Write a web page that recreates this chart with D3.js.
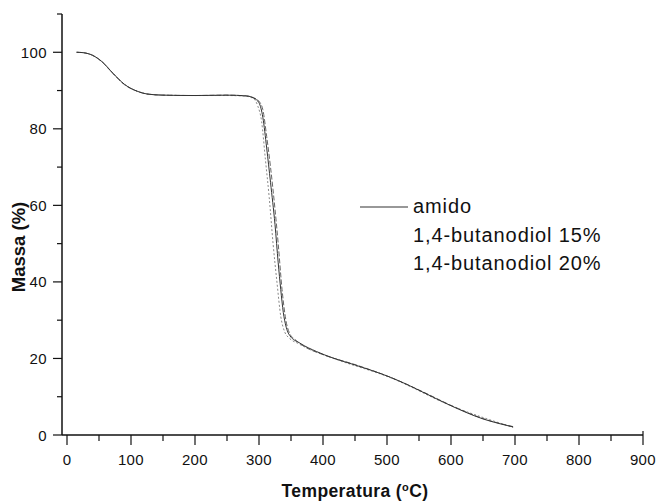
<!DOCTYPE html>
<html><head><meta charset="utf-8">
<script src="https://cdn.jsdelivr.net/npm/d3@7"></script>
<style>body{margin:0;background:#fff}svg{display:block}text{font-family:"Liberation Sans",Arial,sans-serif;fill:#111}</style>
</head><body><svg id="c" width="657" height="502"></svg>
<script>
const seriesNames = ["amido", "1,4-butanodiol 15%", "1,4-butanodiol 20%"];
const xTicks = [0,100,200,300,400,500,600,700,800,900];
const yTicks = [0,20,40,60,80,100];
const amidoT = [15,25,40,55,72,90,110,125,150,200,250,280,292,300,306,312,318,325,330,334,338,342,348,364,390,416,450,505,530,556,598,625,650,675,697];
const amidoM = [100,99.9,99.2,97.5,94.5,91.6,89.8,89.1,88.8,88.7,88.8,88.6,88,86.8,83,75,66,55,45,38,32,28.5,26,24,21.8,20.1,18.3,15.1,13.3,11.2,7.8,5.8,4.2,3,2.1];
const b15T = [15,25,40,55,72,90,110,125,150,200,250,280,292,300,306,312,318,325,330,336,342,348,356,370,400,450,505,556,598,650,697];
const b15M = [100,99.9,99.2,97.5,94.4,91.5,89.8,89.1,88.8,88.7,88.8,88.6,88.1,87.2,85,78,70,59,50,38,30,26.5,25,23.2,21,18.4,15.1,11.3,7.9,4.3,2.2];
const b20T = [15,25,40,55,72,90,110,125,150,200,250,280,292,298,304,310,316,322,328,334,340,348,360,390,420,505,598,697];
const b20M = [100,99.9,99.2,97.4,94.4,91.6,89.8,89.1,88.8,88.7,88.7,88.5,87.8,86,82,72,62,50,40,31,27,25.2,24,21.7,19.8,15,7.8,2];

const svg = d3.select("#c");
const x = d3.scaleLinear().domain([0,900]).range([67,643]);
const y = d3.scaleLinear().domain([0,110]).range([435,14]);

svg.append("line").attr("x1",62).attr("x2",62).attr("y1",y(110)).attr("y2",y(0)).attr("stroke","#111").attr("stroke-width",1.5);
svg.append("line").attr("x1",62).attr("x2",x(900)).attr("y1",y(0)).attr("y2",y(0)).attr("stroke","#111").attr("stroke-width",1.5);
const yMinor = d3.range(10,111,20);
svg.selectAll(".ymaj").data(yTicks).join("line").attr("x1",53).attr("x2",62).attr("y1",d=>y(d)).attr("y2",d=>y(d)).attr("stroke","#111").attr("stroke-width",1.2);
svg.selectAll(".ymin").data(yMinor).join("line").attr("x1",57).attr("x2",62).attr("y1",d=>y(d)).attr("y2",d=>y(d)).attr("stroke","#111").attr("stroke-width",1.2);
svg.selectAll(".ylab").data(yTicks).join("text").attr("x",47).attr("y",d=>y(d)+5.5).attr("text-anchor","end").attr("font-size",15).attr("letter-spacing",0.4).text(d=>d);

const xMinor = d3.range(50,900,100);
svg.selectAll(".xmaj").data(xTicks).join("line").attr("x1",d=>x(d)).attr("x2",d=>x(d)).attr("y1",y(0)).attr("y2",y(0)+10).attr("stroke","#111").attr("stroke-width",1.2);
svg.selectAll(".xmin").data(xMinor).join("line").attr("x1",d=>x(d)).attr("x2",d=>x(d)).attr("y1",y(0)).attr("y2",y(0)+6).attr("stroke","#111").attr("stroke-width",1.2);
svg.append("line").attr("x1",x(900)).attr("x2",x(900)).attr("y1",y(0)-4).attr("y2",y(0)).attr("stroke","#111").attr("stroke-width",1.2);
svg.selectAll(".xlab").data(xTicks).join("text").attr("x",d=>x(d)).attr("y",465).attr("text-anchor","middle").attr("font-size",15).attr("letter-spacing",0.4).text(d=>d);

svg.append("text").attr("x",355).attr("y",497).attr("text-anchor","middle").attr("font-size",17.5).attr("font-weight","bold").attr("letter-spacing",0.4)
  .html('Temperatura (<tspan dy="-6" font-size="11">o</tspan><tspan dy="6">C)</tspan>');
svg.append("text").attr("transform","translate(25,247) rotate(-90)").attr("text-anchor","middle").attr("font-size",18.5).attr("font-weight","bold").text("Massa (%)");

const line = d3.line().x(d=>x(d[0])).y(d=>y(d[1])).curve(d3.curveMonotoneX);
const series = [
  {T:b20T,M:b20M,color:"#888",dash:"2,2",w:1},
  {T:b15T,M:b15M,color:"#666",dash:"5,2",w:1},
  {T:amidoT,M:amidoM,color:"#333",dash:null,w:1}
];
series.forEach(s=>{
  svg.append("path").datum(s.T.map((t,i)=>[t,s.M[i]])).attr("d",line).attr("fill","none")
    .attr("stroke",s.color).attr("stroke-width",s.w).attr("stroke-dasharray",s.dash);
});

svg.append("line").attr("x1",360).attr("x2",408).attr("y1",207).attr("y2",207).attr("stroke","#333").attr("stroke-width",1.2);
const ly = [213,242,270];
seriesNames.forEach((n,i)=>{
  svg.append("text").attr("x",413).attr("y",ly[i]).attr("font-size",20).attr("letter-spacing",0.9).text(n);
});
</script></body></html>
